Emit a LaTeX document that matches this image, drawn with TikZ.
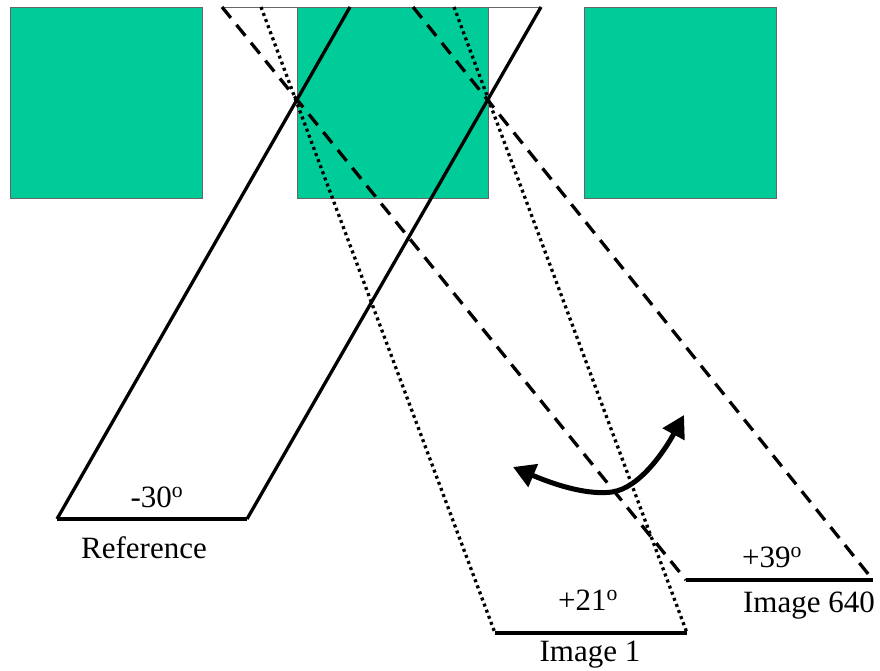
\documentclass[tikz,border=0pt]{standalone}
\usepackage{fontspec}
\setmainfont{Liberation Serif}
\usetikzlibrary{arrows.meta}
\definecolor{sqgreen}{RGB}{0,204,153}
\begin{document}
\begin{tikzpicture}[x=1pt,y=-1pt,
  sq/.style={fill=sqgreen,draw=black!60,line width=0.8pt},
  side/.style={line width=3.3pt},
  base/.style={line width=4.8pt},
  dsh/.style={side,dash pattern=on 14pt off 9pt},
  dts/.style={side,dash pattern=on 3pt off 3.5pt},
  lbl/.style={font=\fontsize{31}{35}\selectfont,anchor=base,inner sep=0pt}]
\useasboundingbox (0,0) rectangle (880,671);
% squares
\draw[sq] (10,7) rectangle (202,198);
\draw[sq] (297,7) rectangle (488,198);
\draw[sq] (584,7) rectangle (776,198);
% top line
\coordinate (t1) at (222,7);
\coordinate (t2) at (541,7);
\draw[black!60,line width=0.8pt] (t1) -- (t2);
% reference (solid)
\coordinate (ra) at (350,7);
\coordinate (rb) at (541,7);
\coordinate (rc) at (247,519);
\coordinate (rd) at (57,519);
\draw[side] (ra) -- (rd);
\draw[side] (rb) -- (rc);
\draw[base] (rd) -- (rc);
% image 1 (dotted)
\coordinate (ia) at (261,7);
\coordinate (ib) at (454,7);
\coordinate (ic) at (687,633);
\coordinate (id) at (495,633);
\draw[dts] (ia) -- (id);
\draw[dts] (ib) -- (ic);
\draw[base] (id) -- (ic);
% image 640 (dashed)
\coordinate (ja) at (222,7);
\coordinate (jb) at (413,7);
\coordinate (jc) at (873,580);
\coordinate (jd) at (686,580);
\draw[dsh] (ja) -- (jd);
\draw[dsh] (jb) -- (jc);
\draw[base] (jd) -- (jc);
% labels
\node[lbl] (l30) at (157,507) {-30\textsuperscript{o}};
\node[lbl] (lref) at (144,558) {Reference};
\node[lbl] (l21) at (588,610) {+21\textsuperscript{o}};
\node[lbl] (li1) at (590,661) {Image 1};
\node[lbl] (l39) at (772,567) {+39\textsuperscript{o}};
\node[lbl] (li640) at (809,612) {Image 640};
% curved double arrow
\coordinate (al) at (513,467);
\coordinate (am) at (612,492);
\coordinate (ar) at (684,415);
\draw[line width=5pt,{Triangle[length=22pt,width=24pt]}-{Triangle[length=22pt,width=24pt]}]
  (al) .. controls (560,487) and (590,495) .. (am) .. controls (640,488) and (665,450) .. (ar);
\end{tikzpicture}
\end{document}
